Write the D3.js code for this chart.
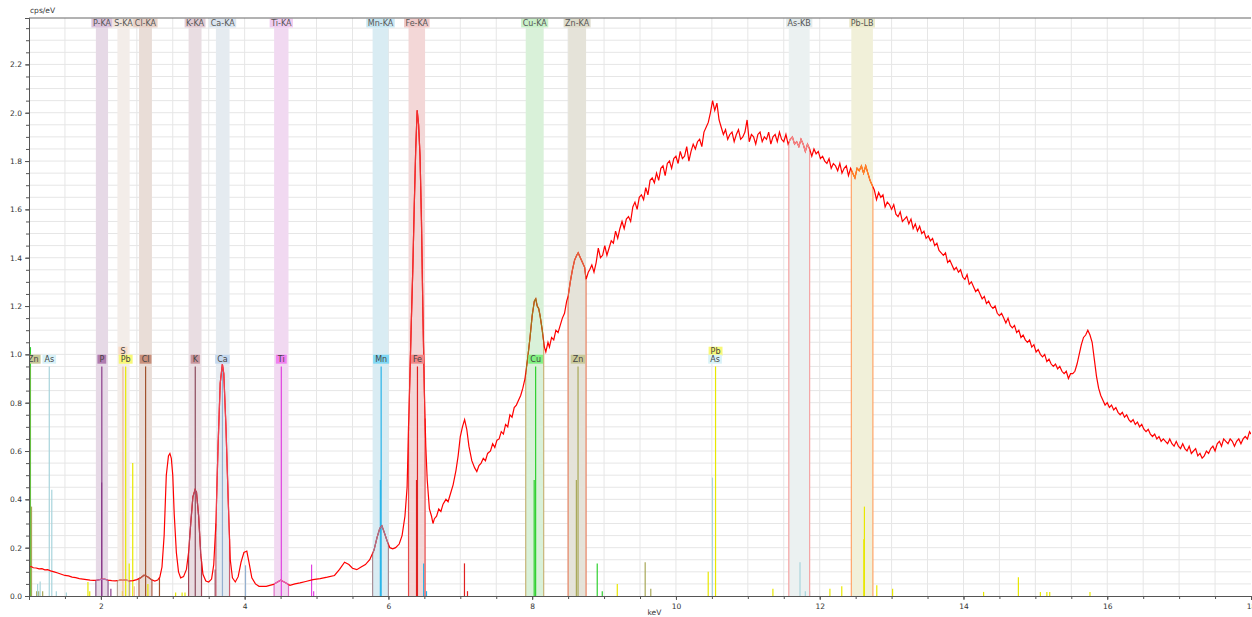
<!DOCTYPE html>
<meta charset="utf-8">
<script src="https://d3js.org/d3.v7.min.js"></script>
<style>
body { margin: 0; background: #fff; }
text { font-family: "DejaVu Sans", Verdana, sans-serif; }
</style>
<body></body>
<script>

// spectrum, [keV, cps/eV]
var spectrum = [
  [1.00,0.120],[1.03,0.122],[1.06,0.117],[1.10,0.116],[1.14,0.112],[1.18,0.113],[1.22,0.108],[1.26,0.109],[1.30,0.104],[1.35,0.100],
  [1.40,0.095],[1.45,0.090],[1.50,0.085],[1.55,0.083],[1.60,0.078],[1.65,0.076],[1.70,0.072],[1.75,0.070],[1.80,0.068],[1.85,0.066],
  [1.90,0.065],[1.95,0.066],[2.00,0.069],[2.05,0.070],[2.10,0.066],[2.15,0.064],[2.20,0.063],[2.25,0.065],[2.30,0.068],[2.35,0.066],
  [2.40,0.063],[2.45,0.064],[2.50,0.068],[2.55,0.075],[2.60,0.086],[2.65,0.080],[2.70,0.068],[2.75,0.062],[2.79,0.066],[2.82,0.078],
  [2.85,0.120],[2.88,0.250],[2.91,0.500],[2.94,0.580],[2.96,0.590],[2.98,0.570],[3.00,0.500],[3.02,0.340],[3.05,0.180],[3.08,0.100],
  [3.11,0.075],[3.15,0.080],[3.19,0.110],[3.22,0.180],[3.25,0.300],[3.28,0.410],[3.31,0.440],[3.33,0.430],[3.36,0.330],[3.39,0.170],
  [3.42,0.090],[3.46,0.062],[3.50,0.058],[3.54,0.070],[3.57,0.130],[3.60,0.300],[3.63,0.620],[3.66,0.880],[3.69,0.960],[3.71,0.920],
  [3.74,0.700],[3.77,0.410],[3.80,0.150],[3.83,0.075],[3.87,0.058],[3.91,0.080],[3.95,0.140],[3.99,0.180],[4.03,0.186],[4.06,0.140],
  [4.10,0.075],[4.15,0.050],[4.20,0.040],[4.30,0.040],[4.40,0.048],[4.50,0.065],[4.55,0.058],[4.63,0.044],[4.70,0.050],[4.77,0.054],
  [4.85,0.060],[4.95,0.068],[5.05,0.072],[5.15,0.078],[5.25,0.085],[5.32,0.110],[5.39,0.140],[5.45,0.130],[5.50,0.115],[5.56,0.109],
  [5.62,0.120],[5.68,0.130],[5.74,0.150],[5.80,0.190],[5.84,0.240],[5.88,0.280],[5.91,0.290],[5.94,0.265],[5.98,0.230],[6.02,0.200],
  [6.06,0.195],[6.10,0.200],[6.15,0.215],[6.19,0.250],[6.23,0.330],[6.26,0.450],[6.28,0.700],[6.30,0.920],[6.32,1.150],[6.34,1.360],
  [6.36,1.620],[6.38,1.850],[6.40,2.010],[6.42,1.950],[6.44,1.820],[6.46,1.550],[6.48,1.170],[6.50,0.850],[6.52,0.620],[6.54,0.480],
  [6.57,0.360],[6.60,0.330],[6.62,0.300],[6.64,0.320],[6.67,0.330],[6.70,0.360],[6.73,0.350],[6.76,0.380],[6.80,0.400],[6.83,0.390],
  [6.86,0.420],[6.90,0.460],[6.94,0.520],[6.97,0.580],[7.00,0.660],[7.03,0.700],[7.06,0.730],[7.09,0.690],[7.12,0.620],[7.16,0.560],
  [7.20,0.530],[7.23,0.515],[7.26,0.540],[7.29,0.550],[7.32,0.570],[7.35,0.560],[7.38,0.590],[7.42,0.600],[7.45,0.630],[7.48,0.615],
  [7.51,0.645],[7.54,0.650],[7.57,0.680],[7.60,0.670],[7.63,0.710],[7.66,0.700],[7.69,0.750],[7.72,0.740],[7.75,0.780],[7.78,0.790],
  [7.81,0.810],[7.84,0.830],[7.87,0.860],[7.90,0.900],[7.94,0.990],[7.97,1.070],[8.00,1.160],[8.03,1.220],[8.05,1.230],[8.07,1.200],
  [8.09,1.190],[8.11,1.160],[8.14,1.100],[8.17,1.030],[8.19,1.010],[8.22,1.050],[8.24,1.030],[8.27,1.070],[8.30,1.060],[8.33,1.100],
  [8.36,1.090],[8.39,1.120],[8.42,1.150],[8.45,1.170],[8.48,1.220],[8.50,1.240],[8.53,1.300],[8.56,1.350],[8.59,1.390],[8.62,1.410],
  [8.64,1.420],[8.67,1.400],[8.70,1.380],[8.73,1.360],[8.75,1.310],[8.78,1.340],
  [8.80,1.35],[8.83,1.37],[8.86,1.34],[8.89,1.38],[8.92,1.44],[8.95,1.40],[8.98,1.41],[9.01,1.45],[9.04,1.41],[9.07,1.44],
  [9.10,1.47],[9.13,1.46],[9.16,1.51],[9.19,1.48],[9.22,1.52],[9.25,1.55],[9.28,1.52],[9.31,1.56],[9.34,1.57],[9.37,1.55],
  [9.40,1.61],[9.43,1.63],[9.46,1.60],[9.49,1.65],[9.52,1.66],[9.55,1.64],[9.58,1.69],[9.61,1.66],[9.64,1.72],[9.67,1.73],
  [9.70,1.71],[9.73,1.75],[9.76,1.72],[9.79,1.77],[9.82,1.78],[9.85,1.74],[9.88,1.79],[9.91,1.80],[9.94,1.77],[9.97,1.81],
  [10.00,1.82],[10.03,1.79],[10.06,1.84],[10.09,1.81],[10.12,1.82],[10.15,1.86],[10.18,1.80],[10.21,1.84],[10.24,1.87],[10.27,1.85],
  [10.30,1.88],[10.33,1.89],[10.36,1.86],[10.39,1.92],[10.42,1.94],[10.45,1.96],[10.48,2.00],[10.51,2.05],[10.54,2.01],[10.57,2.04],
  [10.60,1.97],[10.63,1.94],[10.66,1.91],[10.69,1.93],[10.72,1.89],[10.75,1.91],[10.78,1.92],[10.81,1.88],[10.84,1.91],[10.87,1.93],
  [10.90,1.89],[10.93,1.90],[10.96,1.92],[10.99,1.97],[11.02,1.88],[11.05,1.91],[11.08,1.90],[11.11,1.87],[11.14,1.91],[11.17,1.92],
  [11.20,1.88],[11.23,1.90],[11.26,1.89],[11.29,1.92],[11.32,1.87],[11.35,1.90],[11.38,1.91],[11.41,1.88],[11.44,1.92],[11.47,1.89],
  [11.50,1.88],[11.53,1.91],[11.56,1.87],[11.59,1.89],[11.62,1.90],[11.65,1.87],[11.68,1.88],[11.71,1.86],[11.74,1.89],[11.77,1.87],
  [11.80,1.84],[11.83,1.87],[11.86,1.85],[11.89,1.82],[11.92,1.85],[11.95,1.83],[11.98,1.84],[12.01,1.81],[12.04,1.82],[12.07,1.80],
  [12.10,1.79],[12.13,1.81],[12.16,1.77],[12.19,1.79],[12.22,1.78],[12.25,1.76],[12.28,1.79],[12.31,1.75],[12.34,1.77],[12.37,1.78],
  [12.40,1.74],[12.43,1.77],[12.46,1.75],[12.49,1.73],[12.52,1.77],[12.55,1.76],[12.58,1.78],[12.61,1.75],[12.64,1.78],[12.67,1.75],
  [12.70,1.72],[12.73,1.70],[12.76,1.68],[12.79,1.64],[12.82,1.67],[12.85,1.65],[12.88,1.66],[12.91,1.61],[12.94,1.63],[12.97,1.62],
  [13.00,1.60],[13.03,1.62],[13.06,1.58],[13.09,1.57],[13.12,1.59],[13.15,1.55],[13.18,1.56],[13.21,1.57],[13.24,1.54],[13.27,1.56],
  [13.30,1.52],[13.33,1.54],[13.36,1.51],[13.39,1.53],[13.42,1.50],[13.45,1.51],[13.48,1.48],[13.51,1.49],[13.54,1.47],[13.57,1.48],
  [13.60,1.45],[13.63,1.46],[13.66,1.43],[13.69,1.42],[13.72,1.41],[13.75,1.42],[13.78,1.38],[13.81,1.39],[13.84,1.37],[13.87,1.35],
  [13.90,1.36],[13.93,1.34],[13.96,1.35],[13.99,1.32],[14.02,1.31],[14.05,1.33],[14.08,1.29],[14.11,1.30],[14.14,1.28],[14.17,1.26],
  [14.20,1.27],[14.23,1.25],[14.26,1.23],[14.29,1.24],[14.32,1.21],[14.35,1.22],[14.38,1.20],[14.41,1.19],[14.44,1.20],[14.47,1.17],
  [14.50,1.16],[14.53,1.17],[14.56,1.15],[14.59,1.13],[14.62,1.15],[14.65,1.12],[14.68,1.11],[14.71,1.12],[14.74,1.09],[14.77,1.10],
  [14.80,1.07],[14.83,1.08],[14.86,1.06],[14.89,1.05],[14.92,1.06],[14.95,1.03],[14.98,1.04],[15.01,1.01],[15.04,1.02],[15.07,1.00],
  [15.10,0.99],[15.13,1.00],[15.16,0.97],[15.19,0.98],[15.22,0.96],[15.25,0.95],[15.28,0.96],[15.31,0.94],[15.34,0.95],[15.37,0.93],
  [15.40,0.92],[15.43,0.93],[15.46,0.90],[15.49,0.92],[15.52,0.92],[15.55,0.93],[15.58,0.96],[15.61,1.00],[15.64,1.04],[15.67,1.07],
  [15.70,1.08],[15.73,1.10],[15.76,1.08],[15.79,1.05],[15.82,0.98],[15.85,0.91],[15.88,0.86],[15.91,0.83],[15.94,0.81],[15.97,0.79],
  [16.00,0.80],[16.03,0.78],[16.06,0.79],[16.09,0.77],[16.12,0.78],[16.15,0.76],[16.18,0.75],[16.21,0.76],[16.24,0.74],[16.27,0.75],
  [16.30,0.73],[16.33,0.72],[16.36,0.73],[16.39,0.71],[16.42,0.72],[16.45,0.70],[16.48,0.71],[16.51,0.69],[16.54,0.68],[16.57,0.69],
  [16.60,0.67],[16.63,0.66],[16.66,0.67],[16.69,0.65],[16.72,0.66],[16.75,0.64],[16.78,0.65],[16.81,0.64],[16.84,0.63],[16.87,0.65],
  [16.90,0.63],[16.93,0.62],[16.96,0.64],[16.99,0.62],[17.02,0.61],[17.05,0.63],[17.08,0.61],[17.11,0.60],[17.14,0.62],[17.17,0.59],
  [17.20,0.60],[17.23,0.61],[17.26,0.58],[17.29,0.59],[17.32,0.57],[17.35,0.58],[17.38,0.60],[17.41,0.59],[17.44,0.61],[17.47,0.62],
  [17.50,0.60],[17.53,0.63],[17.56,0.64],[17.59,0.62],[17.62,0.65],[17.65,0.64],[17.68,0.63],[17.71,0.65],[17.74,0.64],[17.77,0.62],
  [17.80,0.64],[17.83,0.65],[17.86,0.63],[17.89,0.65],[17.92,0.66],[17.95,0.65],[17.98,0.68],[18.00,0.67]
];

// regions of interest (top labelled bands)
var roiNames = ["P-KA","S-KA","Cl-KA","K-KA","Ca-KA","Ti-KA","Mn-KA","Fe-KA","Cu-KA","Zn-KA","As-KB","Pb-LB"];
var roiLo    = [1.93, 2.23, 2.53, 3.22, 3.60, 4.41, 5.78, 6.28, 7.91, 8.50, 11.57, 12.44];
var roiHi    = [2.10, 2.40, 2.71, 3.40, 3.79, 4.61, 6.00, 6.51, 8.16, 8.75, 11.86, 12.74];
var roiBand  = ["#e6d9e6","#f3ede9","#e9ddd7","#e9dde2","#e5ebf0","#f1d9f1","#d9ecf3","#f3d7d7","#d9f1d9","#e5e3d9","#ebf1f1","#f1f0d9"];
var roiTag   = ["#dcc3dc","#f0e5dc","#e7d1c7","#e2cbd4","#dbe5f0","#f0cdf0","#c9e7f2","#f0caca","#c9f0c9","#dedccb","#e3ebeb","#ebeacb"];
var roiLine  = ["#b070b0","#d0a080","#b06048","#b04860","#f04050","#e060c0","#a07890","#f03030","#a07818","#e0643c","#f08c8c","#ff8c1e"];
var roiEdge  = ["#8c5a8c","#b8a898","#b0604c","#a04658","#c86070","#e070c8","#a89098","#e84848","#c8b478","#e88464","#f4a4a4","#ffa468"];

// elements
var elNames = ["Zn","As","P","S","Pb","Cl","K","Ca","Ti","Mn","Fe","Cu"];
var elColor = ["#a8a858","#a8d4dc","#8c3c8c","#f0b898","#e8e800","#a0522d","#8c4a5c","#94b0d0","#e040e0","#28b4e8","#e02020","#30d030"];
var elTag   = ["#c8c898","#d8f2f8","#b07cb0","#f8dcc8","#f8f878","#c8907c","#c8949c","#c4d8ee","#f080f0","#80d8f4","#f08888","#80f080"];

// element line markers
var lineEl = ["Cu","Cu","Cu","Zn","Zn","Zn","Zn","Zn","As","As","As","As","As","As","Pb","Pb",
  "P","P","P","Pb","S","Pb","Pb","Pb","S","Cl","Pb","Cl","Pb","Pb","Pb","K","K","Ca","Ca",
  "Ti","Ti","Ti","Mn","Mn","Mn","Mn","Fe","Fe","Fe","Fe","Cu","Cu","Cu","Cu","Zn","Zn",
  "Pb","Zn","Zn","Pb","As","Pb","Pb","As","As","As","Pb","Pb","Pb","Pb","Pb","Pb",
  "Pb","Pb","Pb","Pb","Pb","Pb"];
var lineKeV = [1.005,1.020,1.032,1.012,1.035,1.107,1.135,1.190,1.120,1.155,1.282,1.317,1.380,1.520,1.820,1.845,
  2.010,2.013,2.139,2.300,2.307,2.345,2.394,2.443,2.464,2.622,2.654,2.815,3.04,3.13,3.17,3.313,3.590,3.691,4.012,
  4.510,4.931,4.960,5.888,5.899,6.490,6.530,6.391,6.404,7.058,7.100,8.028,8.048,8.905,8.975,8.615,8.638,
  9.184,9.572,9.650,10.449,10.508,10.551,11.349,11.726,11.80,11.86,12.142,12.307,12.614,12.622,12.794,13.014,
  14.28,14.764,15.07,15.16,15.20,15.76];
var lineHeight = [1.03,1.03,0.02,0.95,0.37,0.02,0.02,0.02,0.05,0.06,0.95,0.44,0.02,0.015,0.058,0.02,
  0.47,0.95,0.03,0.02,0.95,0.95,0.135,0.55,0.04,0.95,0.05,0.075,0.015,0.015,0.015,0.95,0.11,0.95,0.127,
  0.95,0.13,0.02,0.48,0.95,0.135,0.02,0.48,0.95,0.135,0.02,0.48,0.95,0.135,0.02,0.48,0.95,
  0.05,0.14,0.03,0.10,0.49,0.95,0.03,0.14,0.02,0.02,0.03,0.04,0.235,0.37,0.045,0.03,
  0.017,0.078,0.017,0.017,0.017,0.017];

// element labels on the marker lines
var tagEl  = ["Zn","As","P","S","Pb","Cl","K","Ca","Ti","Mn","Fe","Cu","Zn","Pb","As"];
var tagKeV = [1.06,1.282,2.013,2.307,2.345,2.622,3.313,3.691,4.510,5.899,6.404,8.048,8.638,10.551,10.544];
var tagRow = [0,0,0,1,0,0,0,0,0,0,0,0,0,1,0];

var margin = {top: 18, right: 1, bottom: 21, left: 29};
var width = 1252 - margin.left - margin.right,
    height = 617 - margin.top - margin.bottom;

var svg = d3.select("body").append("svg")
    .attr("width", 1252)
    .attr("height", 617)
  .append("g")
    .attr("transform", "translate(" + margin.left + "," + margin.top + ")");

var x = d3.scaleLinear().domain([1, 18]).range([0, width]);
var y = d3.scaleLinear().domain([0, 2.392]).range([height, 0]);

var elIndex = {};
elNames.forEach(function(n, i) { elIndex[n] = i; });

svg.append("clipPath").attr("id", "plotclip")
  .append("rect").attr("width", width).attr("height", height);

var plot = svg.append("g").attr("clip-path", "url(#plotclip)");

// grid
var hTicks = d3.range(1, 48).map(function(i) { return i * 0.05; });
var vTicks = d3.range(3, 36).map(function(i) { return i * 0.5; });
plot.append("g").selectAll("line").data(hTicks).enter().append("line")
    .attr("x1", 0).attr("x2", width)
    .attr("y1", function(d) { return y(d); }).attr("y2", function(d) { return y(d); })
    .style("stroke", "#e6e6e6");
plot.append("g").selectAll("line").data(vTicks).enter().append("line")
    .attr("x1", function(d) { return x(d); }).attr("x2", function(d) { return x(d); })
    .attr("y1", 0).attr("y2", height)
    .style("stroke", "#e6e6e6");

// ROI bands
plot.append("g").selectAll("rect").data(roiNames).enter().append("rect")
    .attr("x", function(d, i) { return x(roiLo[i]); })
    .attr("width", function(d, i) { return x(roiHi[i]) - x(roiLo[i]); })
    .attr("y", 0).attr("height", height)
    .style("fill", function(d, i) { return roiBand[i]; });

var bis = d3.bisector(function(d) { return d[0]; }).left;
function specAt(k) {
  var i = bis(spectrum, k);
  if (i <= 0) return spectrum[0][1];
  if (i >= spectrum.length) return spectrum[spectrum.length - 1][1];
  var a = spectrum[i - 1], b = spectrum[i];
  return a[1] + (b[1] - a[1]) * (k - a[0]) / (b[0] - a[0]);
}

// element marker lines
var lineIdx = d3.range(lineKeV.length);
plot.append("g").selectAll("line").data(lineIdx).enter().append("line")
    .attr("x1", function(i) { return x(lineKeV[i]); })
    .attr("x2", function(i) { return x(lineKeV[i]); })
    .attr("y1", y(0))
    .attr("y2", function(i) { return y(lineHeight[i]); })
    .style("stroke", function(i) { return elColor[elIndex[lineEl[i]]]; })
    .style("stroke-width", 1.2);

// ROI edges from spectrum down to baseline
var edges = [];
roiNames.forEach(function(n, i) { edges.push([roiLo[i], i]); edges.push([roiHi[i], i]); });
plot.append("g").selectAll("line").data(edges).enter().append("line")
    .attr("x1", function(d) { return x(d[0]); })
    .attr("x2", function(d) { return x(d[0]); })
    .attr("y1", y(0))
    .attr("y2", function(d) { return y(specAt(d[0])); })
    .style("stroke", function(d) { return roiEdge[d[1]]; })
    .style("stroke-width", 1.2);

// spectrum
var line = d3.line()
    .x(function(d) { return x(d[0]); })
    .y(function(d) { return y(d[1]); });

plot.append("path").datum(spectrum)
    .attr("d", line)
    .style("fill", "none")
    .style("stroke", "#ff0000")
    .style("stroke-width", 1.2);

// spectrum recoloured inside each ROI
roiNames.forEach(function(n, i) {
  svg.append("clipPath").attr("id", "roi" + i)
    .append("rect")
      .attr("x", x(roiLo[i])).attr("width", x(roiHi[i]) - x(roiLo[i]))
      .attr("y", 0).attr("height", height);
  plot.append("path").datum(spectrum)
      .attr("clip-path", "url(#roi" + i + ")")
      .attr("d", line)
      .style("fill", "none")
      .style("stroke", roiLine[i])
      .style("stroke-width", 1.2);
});

// element labels
var tagG = plot.append("g").selectAll("g").data(tagEl).enter().append("g")
    .attr("transform", function(d, i) {
      return "translate(" + x(tagKeV[i]) + "," + (y(0.98) - tagRow[i] * 8) + ")";
    });
tagG.append("rect");
tagG.append("text")
    .text(function(d) { return d; })
    .attr("text-anchor", "middle")
    .attr("y", 3)
    .style("font-size", "8px")
    .style("fill", "#444");
tagG.each(function(d, i) {
  var g = d3.select(this);
  var w = g.select("text").node().getComputedTextLength() + 4;
  g.select("rect")
    .attr("x", -w / 2).attr("width", w)
    .attr("y", -4.5).attr("height", 9)
    .style("fill", elTag[elIndex[d]]);
});

// ROI labels at top
var roiG = plot.append("g").selectAll("g").data(roiNames).enter().append("g")
    .attr("transform", function(d, i) {
      return "translate(" + x((roiLo[i] + roiHi[i]) / 2) + ",5)";
    });
roiG.append("rect");
roiG.append("text")
    .text(function(d) { return d; })
    .attr("text-anchor", "middle")
    .attr("y", 3)
    .style("font-size", "8px")
    .style("fill", "#555");
roiG.each(function(d, i) {
  var g = d3.select(this);
  var w = g.select("text").node().getComputedTextLength() + 3;
  g.select("rect")
    .attr("x", -w / 2).attr("width", w)
    .attr("y", -4.5).attr("height", 9)
    .style("fill", roiTag[i]);
});

// axes
var yMinor = d3.axisLeft(y).tickValues(d3.range(0, 48).map(function(i) { return i * 0.05; }))
    .tickSize(3).tickFormat("");
var yMajor = d3.axisLeft(y).tickValues(d3.range(0, 12).map(function(i) { return i * 0.2; }))
    .tickSize(4).tickFormat(d3.format(".1f"));
var xMinor = d3.axisBottom(x).tickValues(vTicks.concat([1, 18]))
    .tickSize(3).tickFormat("");
var xMajor = d3.axisBottom(x).tickValues(d3.range(1, 10).map(function(i) { return i * 2; }))
    .tickSize(4).tickFormat(d3.format("d"));

svg.append("g").attr("class", "y axis").call(yMinor);
var yAxisGroup = svg.append("g").attr("class", "y axis").call(yMajor);
svg.append("g").attr("class", "x axis").attr("transform", "translate(0," + height + ")").call(xMinor);
var xAxisGroup = svg.append("g").attr("class", "x axis").attr("transform", "translate(0," + height + ")").call(xMajor);

svg.selectAll(".axis path").style("stroke", "#555");
svg.selectAll(".axis line").style("stroke", "#555");
svg.selectAll(".axis text").style("font-size", "7.5px").style("fill", "#333")
    .style("font-family", "'DejaVu Sans', Verdana, sans-serif");
yAxisGroup.selectAll("text").attr("x", -7);
xAxisGroup.selectAll("text").attr("y", 8);

// top frame
svg.append("line").attr("x1", 0).attr("x2", width).attr("y1", 0).attr("y2", 0)
    .style("stroke", "#666");

svg.append("text").text("cps/eV")
    .attr("x", 1).attr("y", -5)
    .style("font-size", "7.5px").style("fill", "#333");
svg.append("text").text("keV")
    .attr("x", x(9.7)).attr("y", height + 19)
    .attr("text-anchor", "middle")
    .style("font-size", "7.5px").style("fill", "#333");

</script>
